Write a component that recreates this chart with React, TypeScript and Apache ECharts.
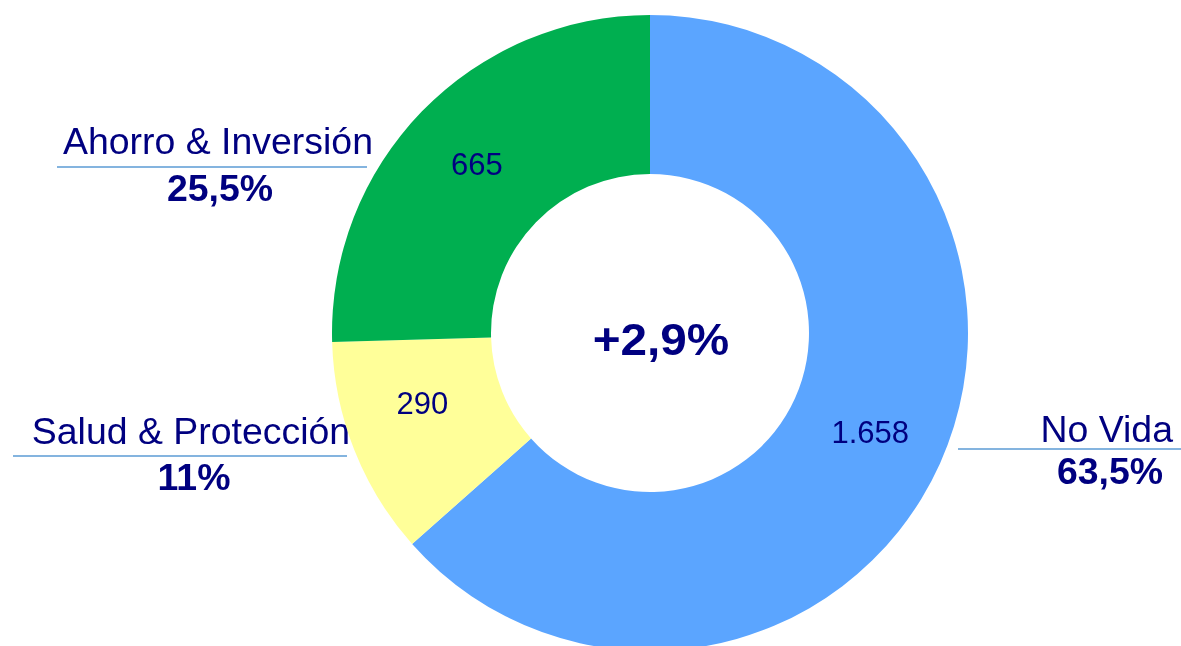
import React, { useEffect, useRef } from "react";
import * as echarts from "echarts";

const categories = ["No Vida", "Salud & Protección", "Ahorro & Inversión"];
const values = [1658, 290, 665];
const shareLabels = ["63,5%", "11%", "25,5%"];
const growthLabel = "+2,9%";
const colors = ["#5BA5FF", "#FFFF99", "#00AF50"];

const NAVY = "#000080";
const LINE = "#5B9BD5";

function fmt(v: number): string {
  return String(v).replace(/\B(?=(\d{3})+(?!\d))/g, ".");
}

export default function App() {
  const ref = useRef<HTMLDivElement>(null);
  useEffect(() => {
    if (!ref.current) return;
    const chart = echarts.init(ref.current, undefined, { renderer: "svg" });
    const labelOffsets: number[][] = [[0, 0], [-3, -18], [0, 0]];
    const outer = [
      { name: categories[2], share: shareLabels[2], tx: 218, ty: 142, px: 220, py: 189, align: "center", line: [57, 167, 367, 167] },
      { name: categories[1], share: shareLabels[1], tx: 191, ty: 432, px: 194, py: 478, align: "center", line: [13, 456, 347, 456] },
      { name: categories[0], share: shareLabels[0], tx: 1173, ty: 430, px: 1110, py: 472, align: "right", line: [958, 449, 1181, 449] },
    ];
    const graphic: any[] = [];
    outer.forEach((o) => {
      graphic.push({
        type: "line",
        shape: { x1: o.line[0], y1: o.line[1], x2: o.line[2], y2: o.line[3] },
        style: { stroke: LINE, lineWidth: 1.5 },
      });
      graphic.push({
        type: "text",
        x: o.tx,
        y: o.ty,
        scaleX: 1.04,
        style: { text: o.name, font: "36px 'Liberation Sans', Arial, sans-serif", fill: NAVY, align: o.align, verticalAlign: "middle" },
      });
      graphic.push({
        type: "text",
        x: o.px,
        y: o.py,
        scaleX: 1.04,
        style: { text: o.share, font: "bold 36px 'Liberation Sans', Arial, sans-serif", fill: NAVY, align: "center", verticalAlign: "middle" },
      });
    });
    graphic.push({
      type: "text",
      x: 661,
      y: 339,
      scaleX: 1.06,
      style: { text: growthLabel, font: "bold 45px 'Liberation Sans', Arial, sans-serif", fill: NAVY, align: "center", verticalAlign: "middle" },
    });
    chart.setOption({
      animation: false,
      graphic,
      series: [
        {
          type: "pie",
          center: [650, 333],
          radius: [159, 318],
          startAngle: 90,
          clockwise: true,
          silent: true,
          label: {
            show: true,
            position: "inside",
            color: NAVY,
            fontSize: 31,
            fontFamily: "'Liberation Sans', Arial, sans-serif",
            formatter: (p: any) => fmt(p.value),
          },
          labelLine: { show: false },
          itemStyle: { borderWidth: 0 },
          data: categories.map((c, i) => ({
            name: c,
            value: values[i],
            itemStyle: { color: colors[i] },
            label: { offset: labelOffsets[i] },
          })),
        },
      ],
    });
    return () => chart.dispose();
  }, []);
  return <div ref={ref} style={{ position: "fixed", left: 0, top: 0, width: 1181, height: 646 }} />;
}
